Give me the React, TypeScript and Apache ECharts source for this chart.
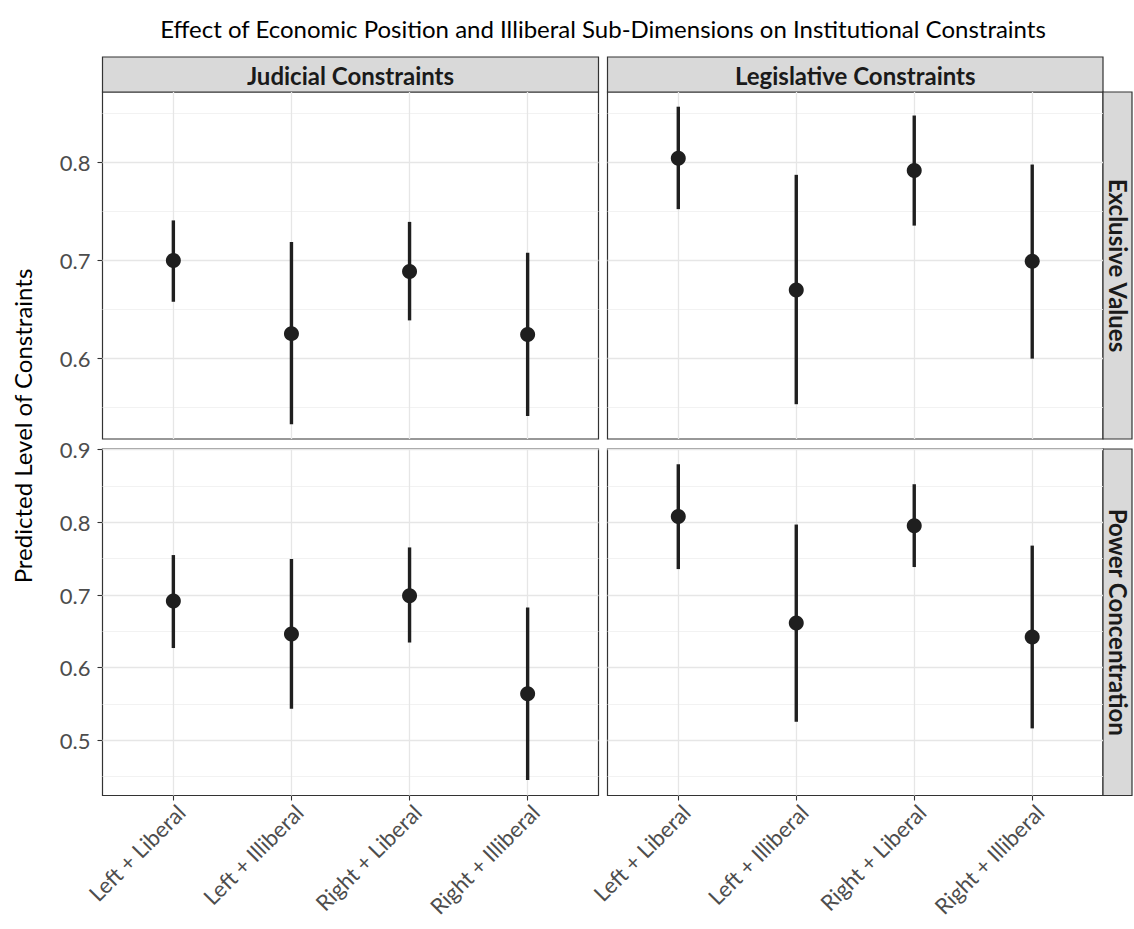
import React, { useEffect, useRef } from "react";
import * as echarts from "echarts";

const categories = ["Left + Liberal", "Left + Illiberal", "Right + Liberal", "Right + Illiberal"];

// Judicial Constraints / Exclusive Values
const judExclEst = [0.700, 0.6255, 0.689, 0.6245];
const judExclLo = [0.658, 0.533, 0.639, 0.5415];
const judExclHi = [0.741, 0.719, 0.7395, 0.708];
// Legislative Constraints / Exclusive Values
const legExclEst = [0.8045, 0.670, 0.792, 0.6994];
const legExclLo = [0.7525, 0.5535, 0.7357, 0.600];
const legExclHi = [0.857, 0.7875, 0.848, 0.798];
// Judicial Constraints / Power Concentration
const judPowEst = [0.6918, 0.6464, 0.699, 0.564];
const judPowLo = [0.627, 0.5433, 0.6346, 0.4454];
const judPowHi = [0.755, 0.7495, 0.7655, 0.6827];
// Legislative Constraints / Power Concentration
const legPowEst = [0.808, 0.6616, 0.7953, 0.6423];
const legPowLo = [0.7357, 0.5255, 0.7385, 0.5164];
const legPowHi = [0.880, 0.797, 0.8525, 0.768];

const topRowLimits = [0.518, 0.872];
const bottomRowLimits = [0.424, 0.901];
const topMajor = [0.6, 0.7, 0.8];
const topMinor = [0.55, 0.65, 0.75, 0.85];
const bottomMajor = [0.5, 0.6, 0.7, 0.8, 0.9];
const bottomMinor = [0.45, 0.55, 0.65, 0.75, 0.85];

const colLabels = ["Judicial Constraints", "Legislative Constraints"];
const rowLabels = ["Exclusive Values", "Power Concentration"];
const title = "Effect of Economic Position and Illiberal Sub-Dimensions on Institutional Constraints";
const yTitle = "Predicted Level of Constraints";

const FONT = "Lato";
const INK = "#1f1f1f";

export default function App() {
  const ref = useRef<HTMLDivElement>(null);
  useEffect(() => {
    if (!ref.current) return;
    const chart = echarts.init(ref.current, null, { renderer: "svg" });

    const colX = [102.5, 607.5];
    const colW = [496, 495.5];
    const rowY = [92, 449];
    const rowH = [347, 346.5];

    const panels = [
      { r: 0, c: 0, est: judExclEst, lo: judExclLo, hi: judExclHi },
      { r: 0, c: 1, est: legExclEst, lo: legExclLo, hi: legExclHi },
      { r: 1, c: 0, est: judPowEst, lo: judPowLo, hi: judPowHi },
      { r: 1, c: 1, est: legPowEst, lo: legPowLo, hi: legPowHi },
    ];

    const grids: any[] = [];
    const xAxes: any[] = [];
    const yAxes: any[] = [];
    const series: any[] = [];

    panels.forEach((p, i) => {
      const lim = p.r === 0 ? topRowLimits : bottomRowLimits;
      const major = p.r === 0 ? topMajor : bottomMajor;
      const minor = p.r === 0 ? topMinor : bottomMinor;
      grids.push({
        left: colX[p.c],
        top: rowY[p.r],
        width: colW[p.c],
        height: rowH[p.r],
        show: true,
        backgroundColor: "#ffffff",
        borderColor: "#333333",
        borderWidth: 1.2,
        containLabel: false,
      });
      const showX = p.r === 1;
      xAxes.push({
        type: "value",
        gridIndex: i,
        min: 0.4,
        max: 4.6,
        splitLine: { show: false },
        axisLine: { show: false },
        axisTick: {
          show: showX,
          customValues: [1, 2, 3, 4],
          length: 5,
          lineStyle: { color: "#333333", width: 1.1 },
        },
        axisLabel: {
          show: showX,
          customValues: [1, 2, 3, 4],
          formatter: (v: number) => categories[Math.round(v) - 1] ?? "",
          rotate: 45,
          align: "right",
          verticalAlign: "top",
          margin: 5,
          fontFamily: FONT,
          fontSize: 22,
          color: "#4D4D4D",
        },
      });
      const showY = p.c === 0;
      yAxes.push({
        type: "value",
        gridIndex: i,
        min: lim[0],
        max: lim[1],
        splitLine: { show: false },
        axisLine: { show: false },
        axisTick: {
          show: showY,
          customValues: major,
          length: 5,
          lineStyle: { color: "#333333", width: 1.1 },
        },
        axisLabel: {
          show: showY,
          customValues: major,
          formatter: (v: number) => v.toFixed(1),
          margin: 12,
          fontFamily: FONT,
          fontSize: 22,
          color: "#4D4D4D",
        },
      });
      const lineData = [
        ...minor.map((v) => ({ yAxis: v, lineStyle: { color: "#EFEFEF", width: 0.8, type: "solid" } })),
        ...major.map((v) => ({ yAxis: v, lineStyle: { color: "#E6E6E6", width: 1.3, type: "solid" } })),
        ...categories.map((_, k) => ({ xAxis: k + 1, lineStyle: { color: "#E6E6E6", width: 1.3, type: "solid" } })),
      ];
      series.push({
        type: "custom",
        xAxisIndex: i,
        yAxisIndex: i,
        z: 2,
        silent: true,
        data: categories.map((_, k) => [k + 1, p.lo[k], p.hi[k]]),
        encode: { x: 0, y: [1, 2] },
        renderItem: (params: any, api: any) => {
          const x = api.value(0);
          const a = api.coord([x, api.value(1)]);
          const b = api.coord([x, api.value(2)]);
          return {
            type: "line",
            shape: { x1: a[0], y1: a[1], x2: b[0], y2: b[1] },
            style: { stroke: INK, lineWidth: 3.4 },
          };
        },
        markLine: {
          silent: true,
          symbol: "none",
          z: 1,
          label: { show: false },
          emphasis: { disabled: true },
          data: lineData,
        },
      });
      series.push({
        type: "scatter",
        xAxisIndex: i,
        yAxisIndex: i,
        z: 3,
        silent: true,
        symbol: "circle",
        symbolSize: 15,
        itemStyle: { color: INK, opacity: 1 },
        data: categories.map((_, k) => [k + 1, p.est[k]]),
      });
    });

    const graphics: any[] = [
      {
        type: "text",
        x: 603,
        y: 28,
        style: { text: title, font: `24px ${FONT}`, fill: "#000000", align: "center", verticalAlign: "middle" },
      },
      {
        type: "text",
        x: 22,
        y: 426,
        rotation: Math.PI / 2,
        style: { text: yTitle, font: `24px ${FONT}`, fill: "#000000", align: "center", verticalAlign: "middle" },
      },
    ];
    colLabels.forEach((t, c) => {
      graphics.push({
        type: "rect",
        shape: { x: colX[c], y: 57, width: colW[c], height: 35 },
        style: { fill: "#D9D9D9", stroke: "#333333", lineWidth: 1.2 },
      });
      graphics.push({
        type: "text",
        x: colX[c] + colW[c] / 2,
        y: 75,
        style: { text: t, font: `bold 24px ${FONT}`, fill: "#1A1A1A", align: "center", verticalAlign: "middle" },
      });
    });
    rowLabels.forEach((t, r) => {
      graphics.push({
        type: "rect",
        shape: { x: 1103, y: rowY[r], width: 29, height: rowH[r] },
        style: { fill: "#D9D9D9", stroke: "#333333", lineWidth: 1.2 },
      });
      graphics.push({
        type: "text",
        x: 1118,
        y: rowY[r] + rowH[r] / 2,
        rotation: -Math.PI / 2,
        style: { text: t, font: `bold 24px ${FONT}`, fill: "#1A1A1A", align: "center", verticalAlign: "middle" },
      });
    });

    chart.setOption({
      animation: false,
      backgroundColor: "#ffffff",
      grid: grids,
      xAxis: xAxes,
      yAxis: yAxes,
      series,
      graphic: graphics,
    });
    return () => chart.dispose();
  }, []);
  return (
    <div
      ref={ref}
      style={{ position: "fixed", left: 0, top: 0, width: 1134, height: 929, background: "#fff" }}
    />
  );
}
